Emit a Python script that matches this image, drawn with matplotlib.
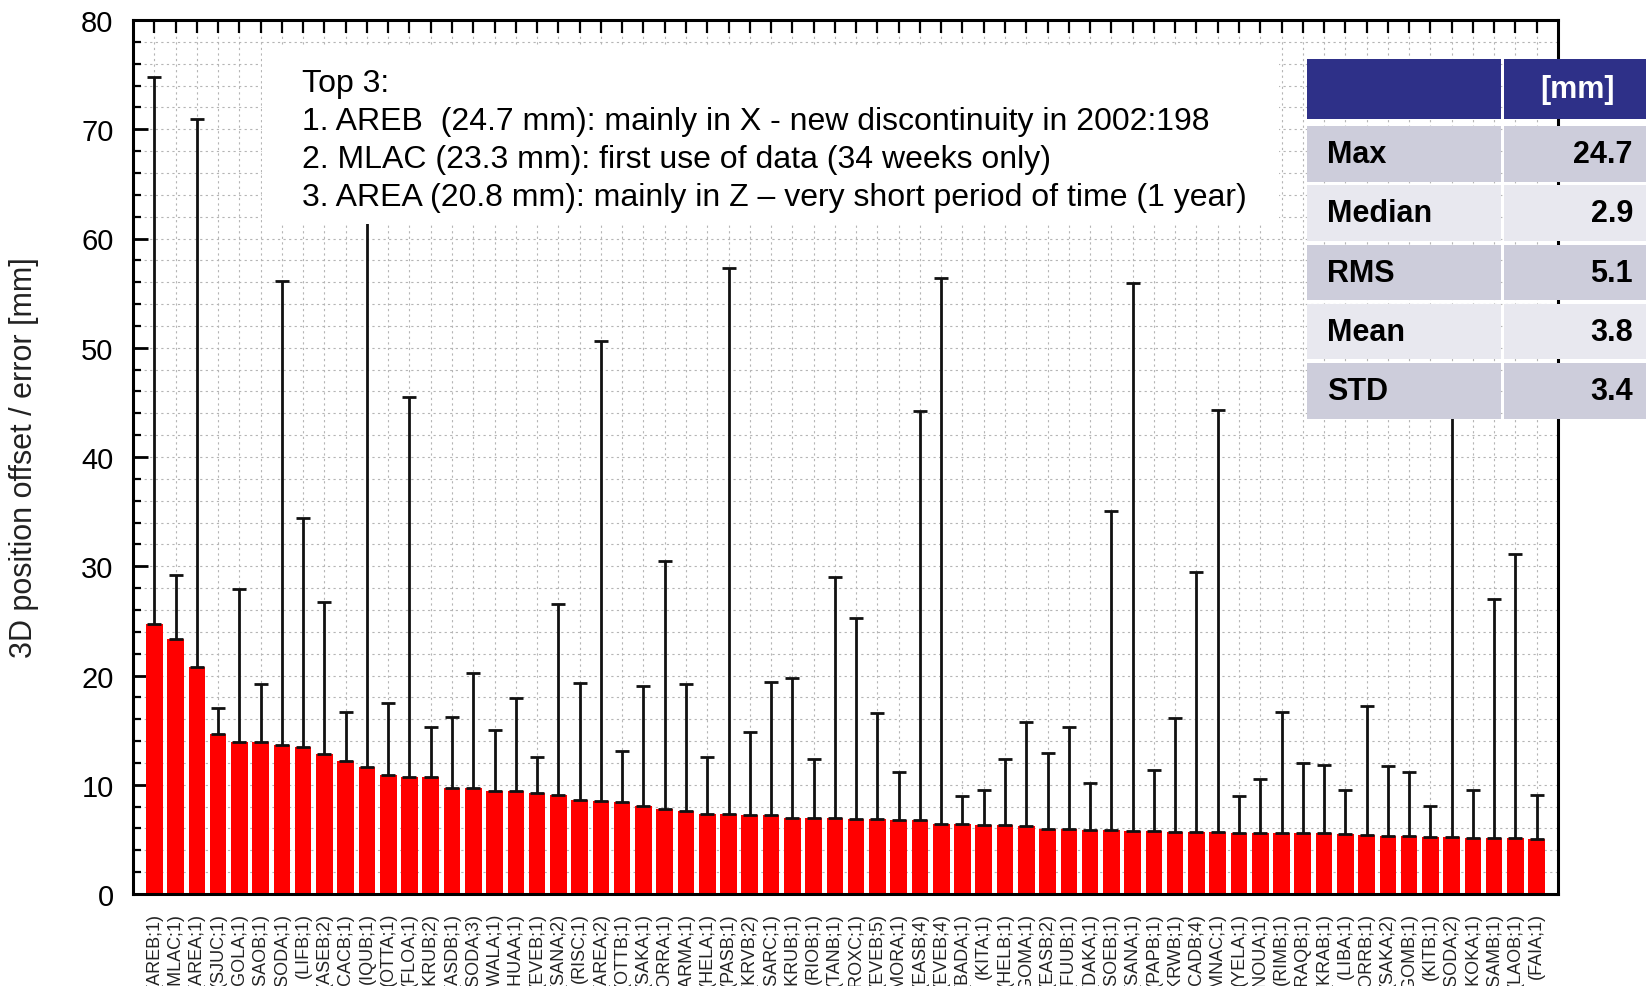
import matplotlib
matplotlib.use("Agg")
import matplotlib.pyplot as plt
from matplotlib.patches import Rectangle
import numpy as np

plt.rcParams['font.family'] = ['Liberation Sans', 'DejaVu Sans']

# station labels (sorted by 3D offset)
stations = ["(AREB;1)", "(MLAC;1)", "(AREA;1)", "(SJUC;1)", "(GOLA;1)", "(SAOB;1)",
            "(SODA;1)", "(LIFB;1)", "(ASEB;2)", "(CACB;1)", "(IQUB;1)", "(OTTA;1)",
            "(FLOA;1)", "(KRUB;2)", "(ASDB;1)", "(SODA;3)", "(WALA;1)", "(HUAA;1)",
            "(EVEB;1)", "(SANA;2)", "(RISC;1)", "(AREA;2)", "(OTTB;1)", "(SAKA;1)",
            "(ORRA;1)", "(ARMA;1)", "(HELA;1)", "(PASB;1)", "(KRVB;2)", "(SARC;1)",
            "(KRUB;1)", "(RIOB;1)", "(TANB;1)", "(ROXC;1)", "(EVEB;5)", "(MORA;1)",
            "(EASB;4)", "(EVEB;4)", "(BADA;1)", "(KITA;1)", "(HELB;1)", "(GOMA;1)",
            "(EASB;2)", "(FUUB;1)", "(DAKA;1)", "(SOEB;1)", "(SANA;1)", "(PAPB;1)",
            "(KRWB;1)", "(CADB;4)", "(MNAC;1)", "(YELA;1)", "(NOUA;1)", "(RIMB;1)",
            "(RAQB;1)", "(KRAB;1)", "(LIBA;1)", "(ORRB;1)", "(SAKA;2)", "(GOMB;1)",
            "(KITB;1)", "(SODA;2)", "(KOKA;1)", "(SAMB;1)", "(LAOB;1)", "(FAIA;1)"]

# 3D position offset [mm]
offset = [24.7, 23.3, 20.8, 14.6, 13.9, 13.9, 13.6, 13.5, 12.8, 12.2, 11.6, 10.9,
          10.7, 10.7, 9.7, 9.7, 9.4, 9.4, 9.2, 9.1, 8.6, 8.5, 8.4, 8.1,
          7.8, 7.6, 7.35, 7.3, 7.2, 7.2, 7.0, 7.0, 7.0, 6.9, 6.9, 6.8,
          6.8, 6.45, 6.4, 6.3, 6.3, 6.2, 5.95, 5.95, 5.85, 5.85, 5.76, 5.76,
          5.7, 5.7, 5.7, 5.55, 5.55, 5.55, 5.55, 5.55, 5.45, 5.4, 5.3, 5.3,
          5.25, 5.2, 5.15, 5.15, 5.15, 5.0]

# upper end of the error bar [mm]
err_top = [74.8, 29.2, 70.9, 17.0, 27.9, 19.2, 56.1, 34.4, 26.7, 16.7, 75.0, 17.5,
           45.5, 15.3, 16.2, 20.2, 15.0, 17.9, 12.5, 26.5, 19.3, 50.6, 13.1, 19.0,
           30.5, 19.2, 12.5, 57.3, 14.8, 19.4, 19.8, 12.4, 29.0, 25.3, 16.6, 11.2,
           44.2, 56.4, 9.0, 9.5, 12.4, 15.7, 12.9, 15.3, 10.2, 35.1, 55.9, 11.35,
           16.1, 29.5, 44.3, 9.0, 10.5, 16.7, 12.0, 11.8, 9.5, 17.2, 11.7, 11.2,
           8.05, 45.0, 9.5, 27.0, 31.1, 9.1]

top3_text = ("Top 3:\n"
             "1. AREB  (24.7 mm): mainly in X - new discontinuity in 2002:198\n"
             "2. MLAC (23.3 mm): first use of data (34 weeks only)\n"
             "3. AREA (20.8 mm): mainly in Z \u2013 very short period of time (1 year)")

stat_names = ["Max", "Median", "RMS", "Mean", "STD"]
stat_values = ["24.7", "2.9", "5.1", "3.8", "3.4"]

W, H = 1646, 987


def fx(px):
    return px / W


def fy(py):
    return 1 - py / H


fig = plt.figure(figsize=(W / 100, H / 100), dpi=100)
ax = fig.add_axes([fx(133), fy(895), fx(1558) - fx(133), fy(21) - fy(895)])

x = np.arange(1, len(stations) + 1)
off = np.array(offset)
up = np.array(err_top) - off

ax.bar(x, off, width=0.78, color="#ff0000", edgecolor="none", zorder=2)
ax.errorbar(x, off, yerr=[np.zeros_like(off), up], fmt="none", ecolor="#111111",
            elinewidth=2.0, capsize=5, capthick=2.0, zorder=3)

ax.set_xlim(0, len(stations) + 1)
ax.set_ylim(0, 80)
ax.set_yticks(np.arange(0, 81, 10))
ax.set_yticks(np.arange(0, 81, 2), minor=True)
ax.set_xticks(x)
ax.set_xticklabels(stations, rotation=90, fontsize=13, color="#222222")
ax.tick_params(axis="y", which="major", direction="in", length=11, width=2,
               labelsize=21, pad=14)
ax.tick_params(axis="y", which="minor", direction="in", length=6, width=1.6)
ax.tick_params(axis="x", which="major", direction="in", length=9, width=1.6,
               top=True, pad=13)
ax.grid(which="both", linestyle=(0, (2, 3)), color="#b5b5b5", linewidth=0.8, zorder=0)
ax.set_axisbelow(True)
for s in ax.spines.values():
    s.set_linewidth(2.2)

ax.set_ylabel("3D position offset / error [mm]", fontsize=22, color="#222222")
ax.yaxis.set_label_coords(-0.066, 0.5)

# white box behind the "Top 3" notes
fig.patches.append(Rectangle((fx(262), fy(225)), fx(1279) - fx(262), fy(47) - fy(225),
                             transform=fig.transFigure, facecolor="white",
                             edgecolor="none", zorder=5))
fig.text(fx(302), fy(141), top3_text, fontsize=23, ha="left", va="center",
         linespacing=1.36, color="black", zorder=6)

# statistics table
col1, col2 = (1307, 1501), (1504, 1650)
for (a, b) in (col1, col2):
    fig.patches.append(Rectangle((fx(a), fy(120)), fx(b) - fx(a), fy(60) - fy(120),
                                 transform=fig.transFigure, facecolor="#2e3088",
                                 edgecolor="none", zorder=5))
fig.text(fx(1578), fy(90), "[mm]", fontsize=22, fontweight="bold", color="white",
         ha="center", va="center", zorder=6)
for i, (name, val) in enumerate(zip(stat_names, stat_values)):
    top = 127 + i * 59.3
    c = "#cdcddb" if i % 2 == 0 else "#e8e8ef"
    for (a, b) in (col1, col2):
        fig.patches.append(Rectangle((fx(a), fy(top + 55.5)), fx(b) - fx(a),
                                     fy(top) - fy(top + 55.5),
                                     transform=fig.transFigure, facecolor=c,
                                     edgecolor="none", zorder=5))
    fig.text(fx(1327), fy(top + 28), name, fontsize=22, fontweight="bold",
             ha="left", va="center", zorder=6)
    fig.text(fx(1633), fy(top + 28), val, fontsize=22, fontweight="bold",
             ha="right", va="center", zorder=6)

fig.savefig("out.png", dpi=100)
